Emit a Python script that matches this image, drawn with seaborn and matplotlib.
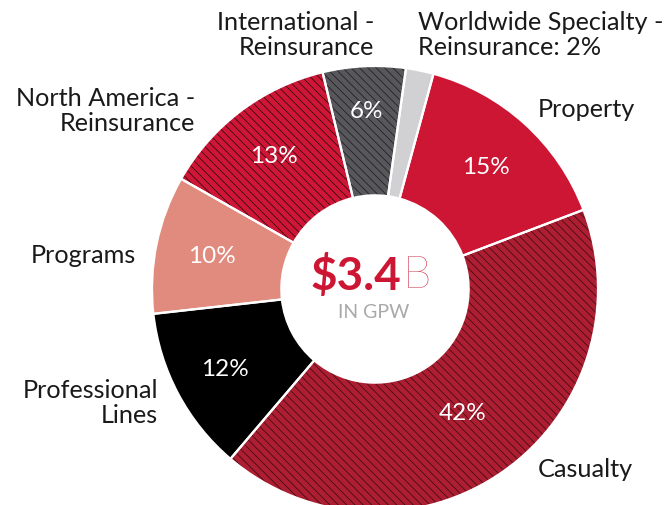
import matplotlib
matplotlib.use("Agg")
import matplotlib.pyplot as plt
import seaborn as sns
import numpy as np

# ---- data ----
segments = ["Worldwide Specialty - Reinsurance", "Property", "Casualty",
            "Professional Lines", "Programs", "North America - Reinsurance",
            "International - Reinsurance"]
shares = [2, 15, 42, 12, 10, 13, 6]
pct_labels = ["", "15%", "42%", "12%", "10%", "13%", "6%"]
outer_labels = ["Worldwide Specialty -\nReinsurance: 2%", "Property", "Casualty",
                "Professional\nLines", "Programs", "North America -\nReinsurance",
                "International -\nReinsurance"]
center_value = "$3.4"
center_unit = "B"
center_caption = "IN GPW"

# ---- style ----
sns.set_theme(style="white")
plt.rcParams["font.family"] = ["Lato", "DejaVu Sans"]
plt.rcParams["hatch.linewidth"] = 0.55

face_colors = ["#d1d1d3", "#cc1634", "#ad1e32", "#000000", "#e08b7d", "#cf1637", "#58585c"]
hatch_colors = [None, None, "#3c0a12", None, None, "#2a0a0e", "#1e1e20"]
hatches = [None, None, "\\\\\\\\", None, None, "\\\\\\\\", "\\\\\\\\"]

W, H = 669, 506
fig = plt.figure(figsize=(W / 100, H / 100), dpi=100)
R_px = 223
cx, cy = 375, 290
lim = 1.05
half = R_px * lim
ax = fig.add_axes([(cx - half) / W, (H - cy - half) / H, 2 * half / W, 2 * half / H])

start = 90 - 8
wedges, _ = ax.pie(shares, startangle=start, counterclock=False, radius=1.0,
                   colors=face_colors,
                   wedgeprops=dict(width=1 - 0.42, linewidth=0))
for w, hc, h in zip(wedges, hatch_colors, hatches):
    if h:
        w.set_hatch(h)
        w.set_edgecolor(hc)
        w.set_linewidth(0)
# white separators
ax.pie(shares, startangle=start, counterclock=False, radius=1.0,
       colors=["none"] * len(shares),
       wedgeprops=dict(width=1 - 0.42, linewidth=1.6, edgecolor="white"))

# percentage labels
pct_dist = [0.75, 0.74, 0.68, 0.76, 0.745, 0.75, 0.80]
for w, lab, d in zip(wedges, pct_labels, pct_dist):
    if not lab:
        continue
    ang = np.deg2rad((w.theta1 + w.theta2) / 2)
    ax.text(d * np.cos(ang), d * np.sin(ang), lab, ha="center", va="center",
            color="white", fontsize=17.5)

ax.set_xlim(-lim, lim)
ax.set_ylim(-lim, lim)
ax.set_aspect("equal")
ax.axis("off")

# outer labels (figure pixel positions)
label_pos = [(418, 35, "left"), (538, 110, "left"), (538, 470, "left"),
             (158, 403, "right"), (136, 256, "right"), (195, 111, "right"),
             (374, 35, "right")]
for lab, (x, y, ha) in zip(outer_labels, label_pos):
    fig.text(x / W, 1 - y / H, lab, ha=ha, va="center", fontsize=18.2,
             color="#1a1a1a", linespacing=1.13, multialignment=ha)

# center text
red = "#cc1634"
fig.text(401 / W, 1 - 276 / H, center_value, ha="right", va="center",
         fontsize=33, fontweight="bold", color=red, parse_math=False)
fig.text(403 / W, 1 - 276 / H, center_unit, ha="left", va="center",
         fontsize=33, fontweight="light", color=red)
fig.text(374 / W, 1 - 313 / H, center_caption, ha="center", va="center",
         fontsize=14, color="#a9a9ab")

fig.savefig("out.png", dpi=100)
